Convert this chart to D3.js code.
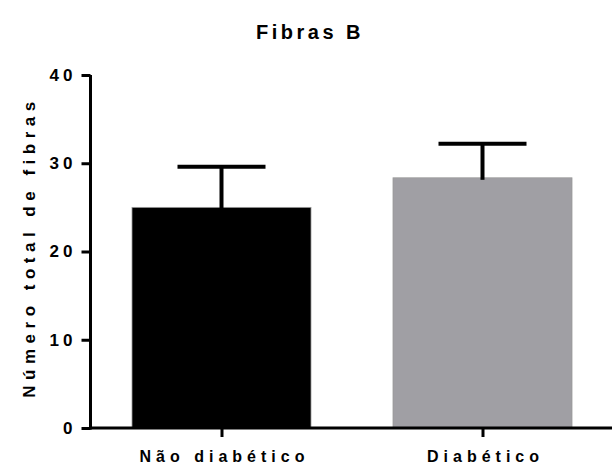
<!DOCTYPE html>
<html>
<head>
<meta charset="utf-8">
<script src="https://cdn.jsdelivr.net/npm/d3@7"></script>
<style>
  html, body { margin: 0; padding: 0; background: #fff; }
  text { font-family: "Liberation Sans", Arial, sans-serif; font-weight: bold; fill: #000; }
</style>
</head>
<body>
<svg id="chart" width="612" height="468"></svg>
<script>
const categories = ["Não diabético", "Diabético"];
const means = [25.0, 28.35];
const errors = [4.6, 3.85];
const barColors = ["#000000", "#a09fa4"];
const yTicks = [0, 10, 20, 30, 40];
const title = "Fibras B";
const yTitle = "Número total de fibras";

const svg = d3.select("#chart");
const y = d3.scaleLinear().domain([0, 40]).range([428, 75]);
const x = d3.scalePoint().domain(categories).range([91, 613]).padding(0.5);
const barW = 179, capHalf = 44;

const data = categories.map((c, i) => ({ c, m: means[i], e: errors[i], col: barColors[i] }));

// bars
svg.selectAll("rect.bar").data(data).join("rect")
  .attr("class", "bar")
  .attr("x", d => x(d.c) - barW / 2)
  .attr("width", barW)
  .attr("y", d => y(d.m))
  .attr("height", d => y(0) - y(d.m))
  .attr("fill", d => d.col)
  .attr("stroke", "#9a9a9a")
  .attr("stroke-width", 0.8);

// error bars
const eb = svg.selectAll("g.eb").data(data).join("g").attr("class", "eb");
eb.append("line")
  .attr("x1", d => x(d.c)).attr("x2", d => x(d.c))
  .attr("y1", d => y(d.m) + 2).attr("y2", d => y(d.m + d.e))
  .attr("stroke", "#000").attr("stroke-width", 4);
eb.append("line")
  .attr("x1", d => x(d.c) - capHalf).attr("x2", d => x(d.c) + capHalf)
  .attr("y1", d => y(d.m + d.e)).attr("y2", d => y(d.m + d.e))
  .attr("stroke", "#000").attr("stroke-width", 4);

// y axis
const yAxis = svg.append("g").attr("transform", "translate(90.5,0)")
  .call(d3.axisLeft(y).tickValues(yTicks).tickSize(9).tickPadding(9).tickFormat(d3.format("d")));
yAxis.select(".domain").attr("d", `M0,${y(40)}V${y(0) + 1.5}`).attr("stroke-width", 3);
yAxis.selectAll(".tick line").attr("stroke-width", 3);
yAxis.selectAll(".tick text")
  .attr("font-size", 17)
  .style("letter-spacing", "4px")
  .attr("dx", 4)
  .attr("font-family", "Liberation Sans, Arial, sans-serif")
  .attr("font-weight", "bold");

// x axis
const xAxis = svg.append("g").attr("transform", `translate(0,${y(0)})`)
  .call(d3.axisBottom(x).tickSize(9).tickPadding(14));
xAxis.select(".domain").attr("d", "M89,0H612").attr("stroke-width", 3);
xAxis.selectAll(".tick line").attr("stroke-width", 3);
xAxis.selectAll(".tick text")
  .attr("font-size", 16)
  .style("letter-spacing", "5px")
  .attr("dx", 2.5)
  .attr("font-family", "Liberation Sans, Arial, sans-serif")
  .attr("font-weight", "bold");

// title
svg.append("text")
  .attr("x", 310).attr("y", 39)
  .attr("text-anchor", "middle")
  .attr("font-size", 20)
  .style("letter-spacing", "3.5px")
  .text(title);

// y title
svg.append("text")
  .attr("transform", "translate(35,247) rotate(-90)")
  .attr("text-anchor", "middle")
  .attr("font-size", 17)
  .style("letter-spacing", "5.5px")
  .text(yTitle);
</script>
</body>
</html>
